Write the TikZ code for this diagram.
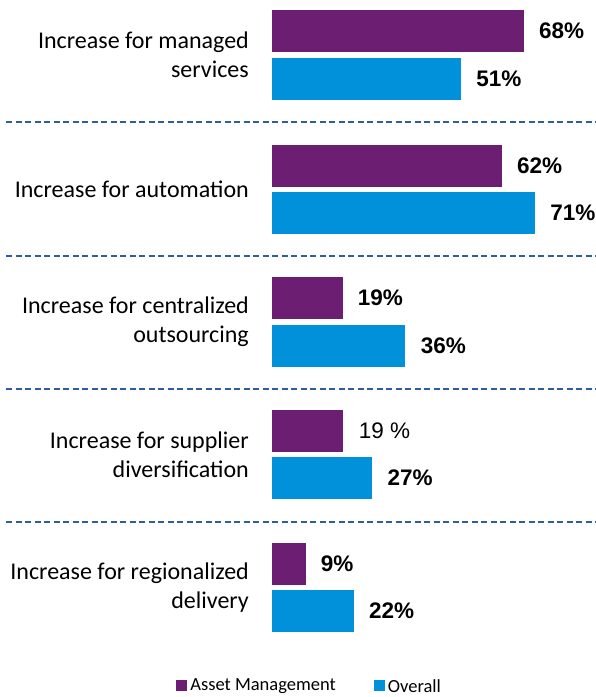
\documentclass[tikz,border=0pt]{standalone}
\usepackage{fontspec}
\setmainfont{Carlito}
\newfontfamily\pctfont{Liberation Sans}
\usetikzlibrary{positioning}
\definecolor{amcol}{HTML}{6C1F72}
\definecolor{allcol}{HTML}{0091DA}
\definecolor{sepcol}{HTML}{2F5D9E}
\tikzset{
  ambar/.style={fill=amcol, draw=none, inner sep=0pt, minimum height=42pt, anchor=west},
  allbar/.style={fill=allcol, draw=none, inner sep=0pt, minimum height=42pt, anchor=west},
  lbl/.style={font=\fontsize{24}{29}\selectfont, align=right, anchor=east, inner sep=0pt},
  pct/.style={font=\pctfont\bfseries\fontsize{22.5}{26}\selectfont, inner sep=0pt},
  sep/.style={sepcol, dash pattern=on 6pt off 3.5pt, line width=1.5pt},
  key/.style={draw=none, inner sep=0pt, minimum size=11pt},
  leg/.style={font=\fontsize{18.5}{22}\selectfont, inner sep=0pt}
}
\begin{document}
\begin{tikzpicture}[x=1pt,y=-1pt]
\useasboundingbox (0,0) rectangle (596,697);
% managed services
\node[lbl] (l1) at (249,55) {Increase for managed\\services};
\node[ambar, minimum width=68*3.7pt] (a1) at (272,31) {};
\node[allbar, minimum width=51*3.7pt] (b1) at (272,79) {};
\node[pct, right=15pt of a1] (pa1) {68\%};
\node[pct, right=15pt of b1] (pb1) {51\%};
\coordinate (s1l) at (6,122);
\coordinate (s1r) at (596,122);
\draw[sep] (s1l) -- (s1r);
% automation
\node[lbl] (l2) at (249,189) {Increase for automation};
\node[ambar, minimum width=62*3.7pt] (a2) at (272,166) {};
\node[allbar, minimum width=71*3.7pt] (b2) at (272,212.5) {};
\node[pct, right=15pt of a2] (pa2) {62\%};
\node[pct, right=15pt of b2] (pb2) {71\%};
\coordinate (s2l) at (6,256);
\coordinate (s2r) at (596,256);
\draw[sep] (s2l) -- (s2r);
% centralized outsourcing
\node[lbl] (l3) at (249,322) {Increase for centralized\\outsourcing};
\node[ambar, minimum width=19*3.7pt] (a3) at (272,298) {};
\node[allbar, minimum width=36*3.7pt] (b3) at (272,346) {};
\node[pct, right=15pt of a3] (pa3) {19\%};
\node[pct, right=15pt of b3] (pb3) {36\%};
\coordinate (s3l) at (6,389);
\coordinate (s3r) at (596,389);
\draw[sep] (s3l) -- (s3r);
% supplier diversification
\node[lbl] (l4) at (249,454.5) {Increase for supplier\\diversification};
\node[ambar, minimum width=19*3.7pt] (a4) at (272,431) {};
\node[allbar, minimum width=27*3.7pt] (b4) at (272,478) {};
\node[pct, font=\pctfont\fontsize{22.5}{26}\selectfont, right=16pt of a4] (pa4) {19 \%};
\node[pct, right=15pt of b4] (pb4) {27\%};
\coordinate (s4l) at (6,522);
\coordinate (s4r) at (596,522);
\draw[sep] (s4l) -- (s4r);
% regionalized delivery
\node[lbl] (l5) at (249,587.5) {Increase for regionalized\\delivery};
\node[ambar, minimum width=9*3.7pt] (a5) at (272,564) {};
\node[allbar, minimum width=22*3.7pt] (b5) at (272,611) {};
\node[pct, right=15pt of a5] (pa5) {9\%};
\node[pct, right=15pt of b5] (pb5) {22\%};
% legend
\node[key, fill=amcol] (k1) at (181.5,685) {};
\node[leg, right=3pt of k1, yshift=-1pt] (t1) {Asset Management};
\node[key, fill=allcol] (k2) at (379,685) {};
\node[leg, right=3pt of k2, yshift=-1pt] (t2) {Overall};
\end{tikzpicture}
\end{document}
